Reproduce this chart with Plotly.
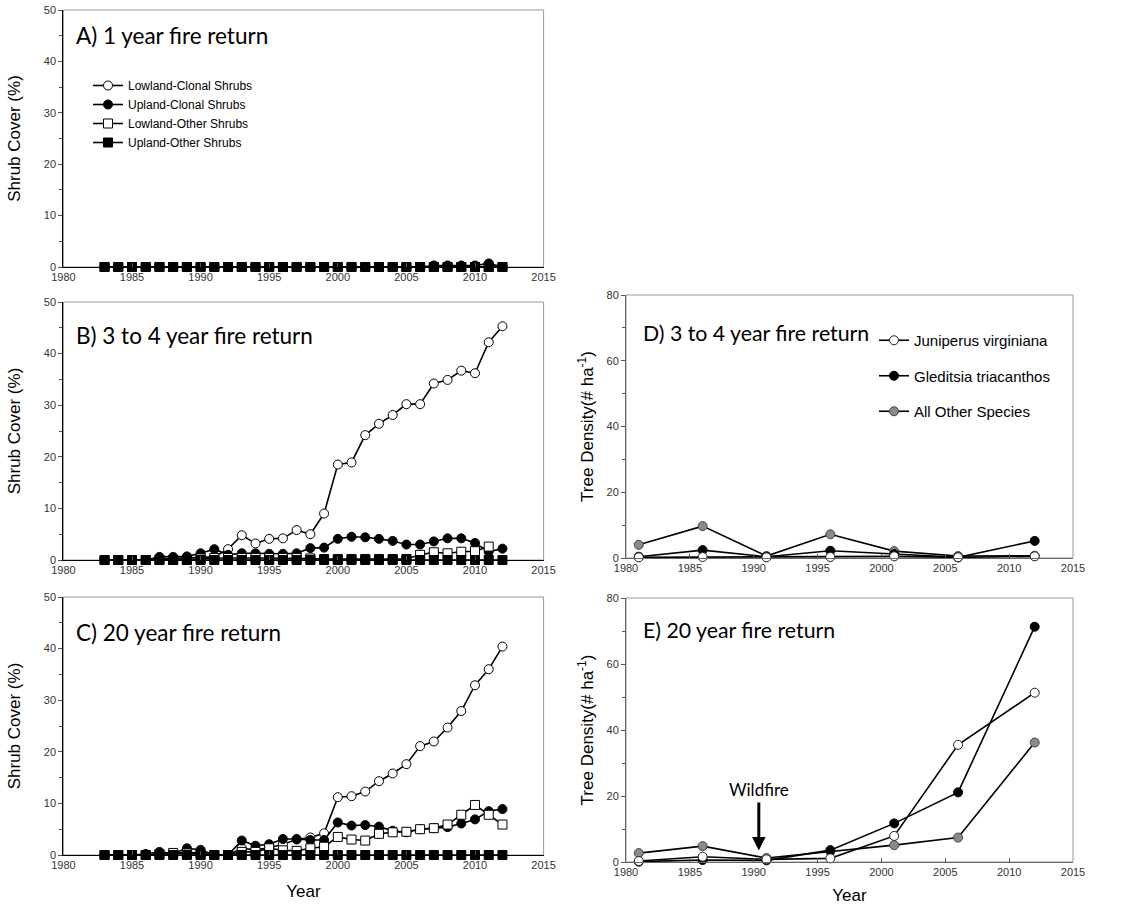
import plotly.graph_objects as go

# ---- shrub cover data (annual, 1983-2012) ----
shrub_years = list(range(1983, 2013))

a_lowland_clonal = [0] * 30
a_upland_clonal = [0] * 24 + [0.3, 0.3, 0.3, 0.3, 0.7, 0]
a_lowland_other = [0] * 30
a_upland_other = [0] * 30

b_lowland_clonal = [0, 0, 0, 0, 0.2, 0.3, 0.4, 0.6, 0.6, 2.1, 4.8, 3.2, 4.1, 4.2, 5.8, 5.0, 9.0,
                    18.5, 18.9, 24.2, 26.4, 28.1, 30.2, 30.2, 34.2, 34.9, 36.7, 36.2, 42.2, 45.3]
b_upland_clonal = [0, 0, 0, 0, 0.6, 0.6, 0.7, 1.3, 2.1, 1.0, 1.3, 1.3, 1.2, 1.2, 1.3, 2.3, 2.4,
                   4.1, 4.5, 4.4, 4.1, 3.7, 3.0, 3.0, 3.6, 4.2, 4.2, 3.3, 1.6, 2.2]
b_lowland_other = [0] * 7 + [0.3, 0.4, 0.4, 0.4, 0.4, 0.4, 0.4, 0.4, 0.3, 0.2, 0.2, 0.2, 0.2, 0.2,
                             0.2, 0.2, 1.0, 1.5, 1.3, 1.6, 1.7, 2.6]
b_upland_other = [0] * 30

c_lowland_clonal = [0, 0, 0, 0, 0.2, 0.3, 0.5, 0.4, 0, 0, 1.3, 1.0, 1.4, 2.1, 3.0, 3.4, 4.2,
                    11.2, 11.4, 12.3, 14.3, 15.8, 17.6, 21.1, 22.0, 24.7, 27.9, 32.9, 36.0, 40.4]
c_upland_clonal = [0, 0, 0, 0.2, 0.6, 0.3, 1.3, 1.0, 0, 0, 2.8, 1.8, 2.1, 3.1, 3.1, 2.9, 2.9,
                   6.3, 5.7, 5.8, 5.5, 4.7, 4.4, 5.0, 5.2, 5.4, 6.1, 6.9, 8.5, 8.9]
c_lowland_other = [0, 0, 0, 0, 0.2, 0.4, 0.3, 0.2, 0, 0, 0.6, 0.6, 1.3, 0.9, 0.8, 1.3, 1.6,
                   3.5, 3.0, 2.8, 4.1, 4.4, 4.5, 5.0, 5.2, 5.9, 7.8, 9.7, 7.8, 5.9]
c_upland_other = [0] * 30

# ---- tree density data (survey years) ----
tree_years = [1981, 1986, 1991, 1996, 2001, 2006, 2012]

d_juniperus = [0.2, 0.3, 0.2, 0.3, 0.5, 0.2, 0.5]
d_gleditsia = [0.4, 2.4, 0.4, 2.2, 1.2, 0.2, 5.2]
d_other = [4.0, 9.7, 0.6, 7.2, 2.1, 0.6, 0.7]

e_juniperus = [0.3, 1.6, 0.8, 1.1, 7.9, 35.5, 51.3]
e_gleditsia = [0.1, 0.6, 0.5, 3.6, 11.7, 21.1, 71.3]
e_other = [2.7, 4.8, 1.2, 3.1, 5.1, 7.4, 36.2]

wildfire_year = 1990.4

shrub_names = ["Lowland-Clonal Shrubs", "Upland-Clonal Shrubs",
               "Lowland-Other Shrubs", "Upland-Other Shrubs"]
tree_names = ["Juniperus virginiana", "Gleditsia triacanthos", "All Other Species"]

panel_titles = ["A) 1 year fire return", "B) 3 to 4 year fire return", "C) 20 year fire return",
                "D) 3 to 4 year fire return", "E) 20 year fire return"]

W, H = 1128, 905


def fx(px):
    return px / W


def fy(px):
    return 1 - px / H


# panel boxes in pixels: (left, right, top, bottom)
boxes = {
    1: (63.4, 543.6, 10, 267),
    2: (63.4, 543.6, 302, 560),
    3: (63.4, 543.6, 597, 855),
    4: (626, 1073, 295, 558),
    5: (626, 1073, 598, 862),
}

fig = go.Figure()

shrub_styles = [
    dict(symbol="circle", color="white"),
    dict(symbol="circle", color="black"),
    dict(symbol="square", color="white"),
    dict(symbol="square", color="black"),
]

shrub_panels = [
    (1, [a_lowland_clonal, a_upland_clonal, a_lowland_other, a_upland_other]),
    (2, [b_lowland_clonal, b_upland_clonal, b_lowland_other, b_upland_other]),
    (3, [c_lowland_clonal, c_upland_clonal, c_lowland_other, c_upland_other]),
]

for p, series in shrub_panels:
    ax = "" if p == 1 else str(p)
    for i in range(4):
        st = shrub_styles[i]
        fig.add_trace(go.Scatter(
            x=shrub_years, y=series[i], mode="lines+markers",
            name=shrub_names[i],
            xaxis="x" + ax, yaxis="y" + ax,
            line=dict(color="black", width=1.6),
            marker=dict(symbol=st["symbol"], size=9, color=st["color"],
                        line=dict(color="black", width=1)),
            cliponaxis=False,
            showlegend=(p == 1), legend="legend",
        ))

tree_styles = [
    dict(color="white", line="#222"),
    dict(color="black", line="black"),
    dict(color="#8a8a8a", line="#444"),
]

tree_panels = [
    (4, [d_juniperus, d_gleditsia, d_other]),
    (5, [e_juniperus, e_gleditsia, e_other]),
]
for p, series in tree_panels:
    for i in [2, 1, 0]:
        st = tree_styles[i]
        fig.add_trace(go.Scatter(
            x=tree_years, y=series[i], mode="lines+markers",
            name=tree_names[i],
            xaxis="x" + str(p), yaxis="y" + str(p),
            line=dict(color="black", width=1.6),
            marker=dict(symbol="circle", size=9, color=st["color"],
                        line=dict(color=st["line"], width=1)),
            cliponaxis=False,
            showlegend=(p == 4), legend="legend2", legendrank=i + 1,
            legendgroup="t%d" % i,
        ))

tick_font = dict(family="Liberation Sans, Arial", size=11, color="#333")
title_font = dict(size=17, family="Liberation Sans, Arial", color="black")
layout = dict(
    width=W, height=H, margin=dict(l=0, r=0, t=0, b=0, autoexpand=False),
    paper_bgcolor="white", plot_bgcolor="white",
    font=dict(family="Liberation Sans, Arial", color="black"),
)

for p, (l, r, t, b) in boxes.items():
    ax = "" if p == 1 else str(p)
    shrub = p <= 3
    xa = dict(
        domain=[fx(l), fx(r)], range=[1980, 2015], dtick=5, tick0=1980,
        showgrid=False, zeroline=False, showline=True, automargin=False,
        linecolor="black" if shrub else "#666", linewidth=1.3 if shrub else 1,
        ticks="inside", ticklen=4, tickcolor="#555",
        tickfont=tick_font, anchor="y" + ax,
    )
    ya = dict(
        domain=[fy(b), fy(t)],
        range=[0, 50] if shrub else [0, 80],
        dtick=10 if shrub else 20, automargin=False,
        minor=dict(dtick=5 if shrub else 10, ticks="outside", ticklen=3, tickcolor="#555"),
        showgrid=False, zeroline=False, showline=True,
        linecolor="black" if shrub else "#666", linewidth=1.3 if shrub else 1,
        ticks="outside", ticklen=4, tickcolor="#555",
        tickfont=tick_font, anchor="x" + ax,
    )
    if shrub:
        ya["title"] = dict(text="Shrub Cover (%)", font=title_font, standoff=18)
    else:
        ya["title"] = dict(text="Tree Density(# ha<sup>-1</sup>)", font=title_font, standoff=8)
    if p == 3:
        xa["title"] = dict(text="Year", font=title_font, standoff=14)
    if p == 5:
        xa["title"] = dict(text="Year", font=title_font, standoff=13)
    layout["xaxis" + ax] = xa
    layout["yaxis" + ax] = ya

shapes = []
for p in boxes:
    ax = "" if p == 1 else str(p)
    shapes.append(dict(type="rect", xref="x" + ax + " domain", yref="y" + ax + " domain",
                       x0=0, x1=1, y0=0, y1=1, line=dict(color="#999", width=1), layer="below"))
layout["shapes"] = shapes

annotations = []
title_pos = {1: 35, 2: 335, 3: 632, 4: 333, 5: 630}
for p, ypx in title_pos.items():
    xpx = 74 if p <= 3 else 641
    annotations.append(dict(
        text=panel_titles[p - 1], xref="paper", yref="paper",
        x=fx(xpx), y=fy(ypx), xanchor="left", yanchor="middle", showarrow=False,
        font=dict(family="Lato, Open Sans", size=22.5 if p <= 3 else 21.3, color="black"),
    ))

# wildfire marker in panel E
annotations.append(dict(
    text="Wildfire", x=wildfire_year, y=3.5, xref="x5", yref="y5",
    ax=0, ay=-48, axref="pixel", ayref="pixel",
    showarrow=True, arrowhead=2, arrowsize=0.9, arrowwidth=3, arrowcolor="black",
    font=dict(family="Lato, Open Sans", size=17, color="black"),
    yanchor="bottom", standoff=0,
))
layout["annotations"] = annotations

layout["legend"] = dict(
    x=fx(88), y=fy(71), xanchor="left", yanchor="top",
    bgcolor="rgba(0,0,0,0)", itemwidth=30, traceorder="normal",
    font=dict(family="Liberation Sans, Arial", size=12, color="black"),
    tracegroupgap=0,
)
layout["legend2"] = dict(
    x=fx(874), y=fy(324), xanchor="left", yanchor="top",
    bgcolor="rgba(0,0,0,0)", itemwidth=30, traceorder="grouped",
    font=dict(family="Liberation Sans, Arial", size=15, color="black"),
    tracegroupgap=13,
)

fig.update_layout(**layout)
fig.write_html("out.html")
